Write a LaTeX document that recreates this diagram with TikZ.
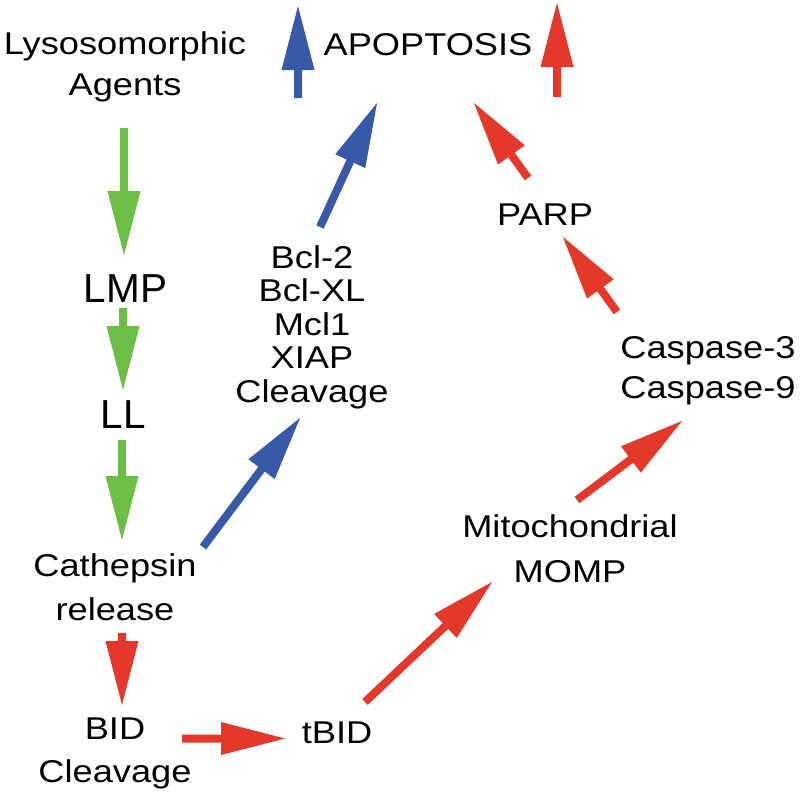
\documentclass[tikz,border=0pt]{standalone}
\usepackage{fontspec}
\setmainfont{Liberation Sans}[FakeStretch=1.15]
\newfontfamily\plainfont{Liberation Sans}
\usetikzlibrary{calc}
\definecolor{agreen}{RGB}{108,190,69}
\definecolor{ablue}{RGB}{56,88,168}
\definecolor{ared}{RGB}{228,56,42}
\newcommand{\blockarrow}[3]{%
  \coordinate (ahb) at ($(#3)!64pt!(#2)$);
  \fill[#1] ($(#2)!4pt!90:(#3)$) -- ($(ahb)!4pt!90:(#3)$) -- ($(ahb)!16.5pt!90:(#3)$) -- (#3) -- ($(ahb)!16.5pt!-90:(#3)$) -- ($(ahb)!4pt!-90:(#3)$) -- ($(#2)!4pt!-90:(#3)$) -- cycle;}
\tikzset{
  lbl/.style={inner sep=0pt, align=center, anchor=base, font=\fontsize{31.5}{40}\selectfont},
  biglbl/.style={inner sep=0pt, anchor=base, font=\plainfont\fontsize{40.5}{48}\selectfont}
}
\begin{document}
\begin{tikzpicture}[x=1pt,y=-1pt]
\useasboundingbox (0,0) rectangle (800,795);
% labels (anchor = baseline of the last line)
\node[lbl, font=\fontsize{31.5}{41}\selectfont] (lyso) at (125,95) {Lysosomorphic\\Agents};
\node[lbl] (apo) at (428,55) {APOPTOSIS};
\node[biglbl] (lmp) at (125.5,302) {LMP};
\node[biglbl] (ll) at (123.5,428) {LL};
\node[lbl, font=\fontsize{31.5}{44}\selectfont] (cath) at (115,620) {Cathepsin\\release};
\node[lbl, font=\fontsize{31.5}{43}\selectfont] (bid) at (115,782) {BID\\Cleavage};
\node[lbl] (tbid) at (337,743) {tBID};
\node[lbl, font=\fontsize{31.5}{45}\selectfont] (momp) at (570,582) {Mitochondrial\\MOMP};
\node[lbl, font=\fontsize{31.5}{40}\selectfont] (casp) at (708,398) {Caspase-3\\Caspase-9};
\node[lbl] (parp) at (545,225) {PARP};
\node[lbl, font=\fontsize{31.5}{33.5}\selectfont] (bcl) at (312,402) {Bcl-2\\Bcl-XL\\Mcl1\\XIAP\\Cleavage};
% arrow end points
\coordinate (g1a) at (124,128); \coordinate (g1b) at (124,255);
\coordinate (g2a) at (123,308); \coordinate (g2b) at (123,390);
\coordinate (g3a) at (122,440); \coordinate (g3b) at (122,540);
\coordinate (r1a) at (122,633); \coordinate (r1b) at (122,705);
\coordinate (r2a) at (182,738.5); \coordinate (r2b) at (285,738.5);
\coordinate (r3a) at (365,702); \coordinate (r3b) at (492,582);
\coordinate (r4a) at (577,500); \coordinate (r4b) at (682,421);
\coordinate (r5a) at (617,312); \coordinate (r5b) at (563,237);
\coordinate (r6a) at (528,178); \coordinate (r6b) at (474,103);
\coordinate (r7a) at (557,97); \coordinate (r7b) at (557,3);
\coordinate (b1a) at (298,98); \coordinate (b1b) at (298,6);
\coordinate (b2a) at (320,227); \coordinate (b2b) at (377,103);
\coordinate (b3a) at (203,547); \coordinate (b3b) at (300,418);
% arrows
\blockarrow{agreen}{g1a}{g1b}
\blockarrow{agreen}{g2a}{g2b}
\blockarrow{agreen}{g3a}{g3b}
\blockarrow{ared}{r1a}{r1b}
\blockarrow{ared}{r2a}{r2b}
\blockarrow{ared}{r3a}{r3b}
\blockarrow{ared}{r4a}{r4b}
\blockarrow{ared}{r5a}{r5b}
\blockarrow{ared}{r6a}{r6b}
\blockarrow{ared}{r7a}{r7b}
\blockarrow{ablue}{b1a}{b1b}
\blockarrow{ablue}{b2a}{b2b}
\blockarrow{ablue}{b3a}{b3b}
\end{tikzpicture}
\end{document}
